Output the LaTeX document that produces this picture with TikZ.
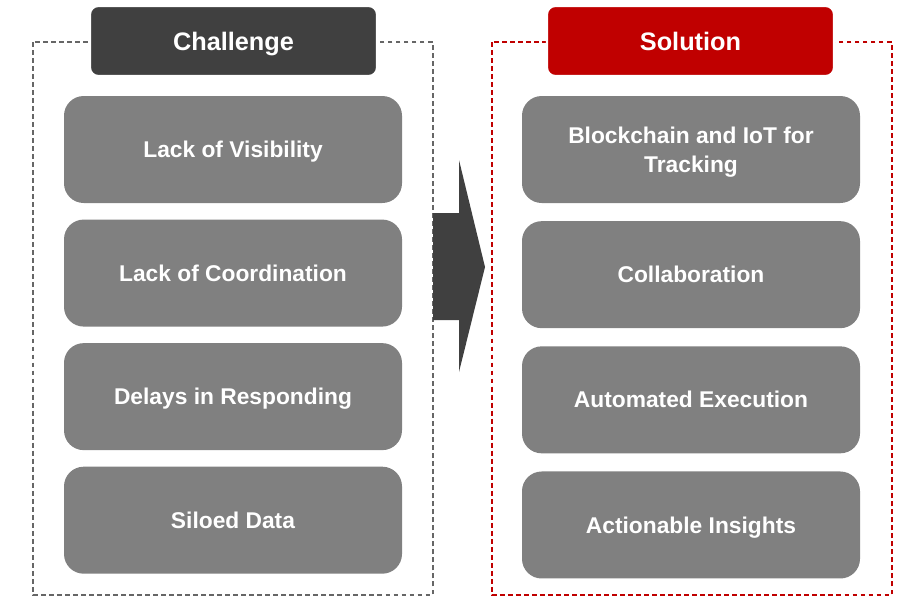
\documentclass[tikz,border=0pt]{standalone}
\usepackage{fontspec}
\setmainfont{Liberation Sans}
\usetikzlibrary{positioning}
\definecolor{darkgrey}{HTML}{404040}
\definecolor{boxgrey}{HTML}{808080}
\definecolor{solred}{HTML}{C00000}

\begin{document}
\begin{tikzpicture}[
  header/.style={draw=white, line width=1.5pt, rectangle, rounded corners=6pt, minimum width=7.175cm, minimum height=1.75cm, text height=13pt, text depth=0pt, text=white, font=\fontsize{18}{22}\selectfont\bfseries},
  item/.style={rectangle, rounded corners=14pt, minimum width=8.45cm, minimum height=2.675cm, fill=boxgrey, text height=11.6pt, text depth=0pt, text=white, align=center, font=\fontsize{16.2}{20.6}\selectfont\bfseries},
  framebox/.style={dash pattern=on 3.5pt off 2.2pt}
]
\useasboundingbox (0,0) rectangle (23.05,-15.025);
% Frames
\draw[framebox, draw=darkgrey!80, line width=0.8pt] (0.825,-1.05) rectangle (10.825,-14.875);
\draw[framebox, draw=solred, line width=1.3pt] (12.3,-1.05) rectangle (22.3,-14.875);
% Challenge
\node[header, fill=darkgrey] (challenge) at (5.8375,-1.025) {Challenge};
\node[item] (visibility) at (5.825,-3.7375) {Lack of Visibility};
\node[item, below=0.4cm of visibility] (coordination) {Lack of Coordination};
\node[item, below=0.4cm of coordination] (delays) {Delays in Responding};
\node[item, below=0.4cm of delays] (siloed) {Siloed Data};
% Solution
\node[header, fill=solred] (solution) at (17.2625,-1.025) {Solution};
\node[item, text height=32.2pt] (tracking) at (17.275,-3.7375) {Blockchain and IoT for\\Tracking};
\node[item, below=0.44cm of tracking] (collab) {Collaboration};
\node[item, below=0.44cm of collab] (execution) {Automated Execution};
\node[item, below=0.44cm of execution] (insights) {Actionable Insights};
% Arrow
\fill[darkgrey] (10.825,-5.325) -- (11.475,-5.325) -- (11.475,-4.0) -- (12.125,-6.675) -- (11.475,-9.3) -- (11.475,-8.0) -- (10.825,-8.0) -- cycle;
\end{tikzpicture}
\end{document}
